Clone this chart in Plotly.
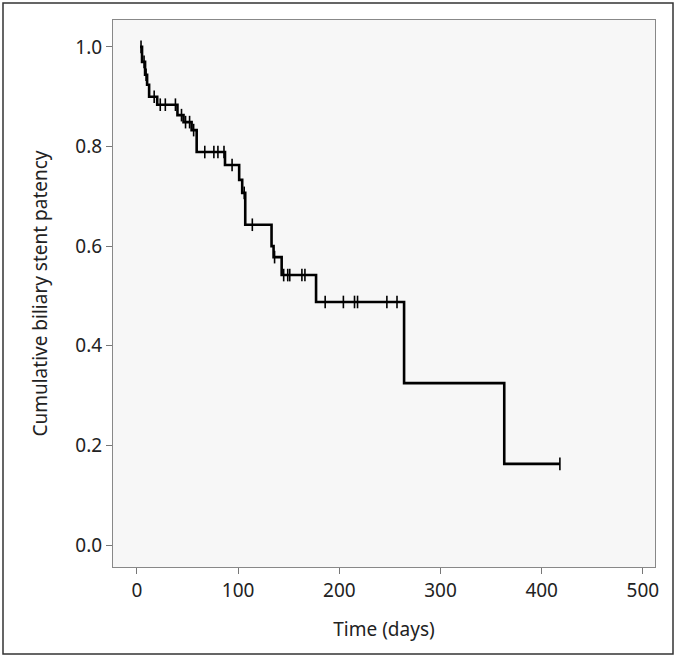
import plotly.graph_objects as go

# Kaplan-Meier step data (time in days, cumulative patency after the step)
event_times = [3, 5, 8, 10, 12, 20, 40, 46, 54, 59, 87, 101, 104, 107, 133, 135, 143, 177, 264, 363]
event_surv = [1.0, 0.970, 0.944, 0.924, 0.900, 0.884, 0.863, 0.849, 0.833, 0.789, 0.763,
              0.733, 0.707, 0.643, 0.600, 0.578, 0.542, 0.488, 0.325, 0.163]
end_time = 418

# Censored observations (time in days)
censor_times = [4, 7, 9, 17, 23, 28, 38, 44, 48, 52, 56, 67, 76, 80, 86, 94, 106, 114,
                136, 145, 149, 151, 163, 166, 186, 204, 215, 218, 247, 257, 418]

x_ticks = [0, 100, 200, 300, 400, 500]
y_ticks = [0.0, 0.2, 0.4, 0.6, 0.8, 1.0]

# Build step path
sx, sy = [], []
for i, (t, s) in enumerate(zip(event_times, event_surv)):
    if i > 0:
        sx.append(t)
        sy.append(event_surv[i - 1])
    sx.append(t)
    sy.append(s)
sx.append(end_time)
sy.append(event_surv[-1])


def surv_at(t):
    val = event_surv[0]
    for et, es in zip(event_times, event_surv):
        if et <= t:
            val = es
    return val


cy = [surv_at(t) for t in censor_times]

FONT = "Noto Sans, Open Sans, sans-serif"

fig = go.Figure()
fig.add_trace(go.Scatter(x=sx, y=sy, mode="lines",
                         line=dict(color="black", width=2.6), hoverinfo="skip"))
fig.add_trace(go.Scatter(x=censor_times, y=cy, mode="markers",
                         marker=dict(symbol="line-ns-open", size=9, color="black",
                                     line=dict(color="black", width=1.6))))

L, R, T, B = 113, 22, 20, 91
W, H = 677, 658
pw, ph = W - L - R, H - T - B

fig.update_layout(
    width=W, height=H,
    margin=dict(l=L, r=R, t=T, b=B),
    paper_bgcolor="white",
    plot_bgcolor="#f7f7f7",
    showlegend=False,
    font=dict(family=FONT, size=19, color="#222"),
    xaxis=dict(range=[-23.7, 512], tickvals=x_ticks, ticktext=[str(v) for v in x_ticks],
               showgrid=False, zeroline=False, ticks="outside", ticklen=6,
               tickcolor="#777", showline=True, linecolor="#888", linewidth=1, mirror=True,
               title=dict(text="Time (days)", standoff=20, font=dict(size=19))),
    yaxis=dict(range=[-0.044, 1.054], tickvals=y_ticks, ticktext=[f"{v:.1f}" for v in y_ticks],
               showgrid=False, zeroline=False, ticks="outside", ticklen=6,
               tickcolor="#777", showline=True, linecolor="#888", linewidth=1, mirror=True,
               title=dict(text="Cumulative biliary stent patency", standoff=22, font=dict(size=19))),
)

# outer frame around the whole figure
fig.add_shape(type="rect", xref="paper", yref="paper",
              x0=(3 - L) / pw, x1=(673 - L) / pw,
              y0=(H - B - 654) / ph, y1=(H - B - 3) / ph,
              line=dict(color="#333", width=1.5), fillcolor="rgba(0,0,0,0)", layer="below")

fig.write_html("out.html", config={"displayModeBar": False},
               post_script="document.body.style.margin='0';document.body.style.overflow='hidden';")
